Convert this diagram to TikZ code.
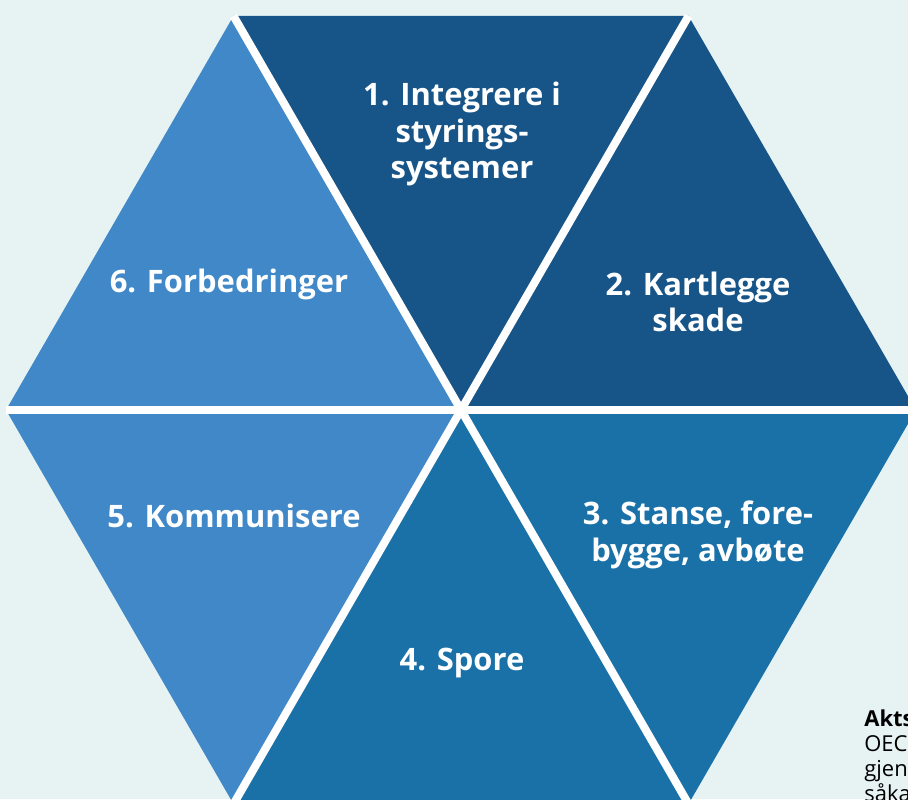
\documentclass[tikz,border=0pt]{standalone}
\usepackage{fontspec}
\setmainfont{Open Sans}
\definecolor{bg}{HTML}{E7F3F2}
\definecolor{navy}{HTML}{175588}
\definecolor{midblue}{HTML}{1A71A8}
\definecolor{lightblue}{HTML}{4088C8}
\begin{document}
\begin{tikzpicture}[
  steplabel/.style={text=white,align=center,font=\bfseries\fontsize{17.6}{20.8}\selectfont},
  sidenote/.style={anchor=north west,inner sep=0pt,align=left,font=\fontsize{12.5}{14.3}\selectfont}]
  \fill[bg] (0,0) rectangle (18.16,15.98);
  \useasboundingbox (0,0) rectangle (18.16,15.98);

  \coordinate (c) at (9.22,7.78);
  \foreach \a in {0,60,...,300}
    \coordinate (v\a) at ([shift={(\a:9.1)}]c);

  \foreach \a/\b/\col in {0/60/navy,60/120/navy,120/180/lightblue,
                          180/240/lightblue,240/300/midblue,300/0/midblue}
    \fill[\col] (c) -- (v\a) -- (v\b) -- cycle;

  \foreach \a/\b in {0/180,60/240,120/300}
    \draw[white,line width=0.16cm] (v\a) -- (v\b);

  \node[steplabel] (s1) at (9.24,13.30) {1. Integrere i\\styrings-\\systemer};
  \node[steplabel] (s2) at (13.96,9.94) {2. Kartlegge\\skade};
  \node[steplabel] (s3) at (13.96,5.28) {3. Stanse, fore-\\bygge, avbøte};
  \node[steplabel] (s4) at (9.24,2.72) {4. Spore};
  \node[steplabel] (s5) at (4.68,5.66) {5. Kommunisere};
  \node[steplabel] (s6) at (4.58,10.30) {6. Forbedringer};

  \node[sidenote] (note) at (17.28,1.79) {\textbf{Akts}\\OEC\\gjen\\såka};
\end{tikzpicture}
\end{document}
